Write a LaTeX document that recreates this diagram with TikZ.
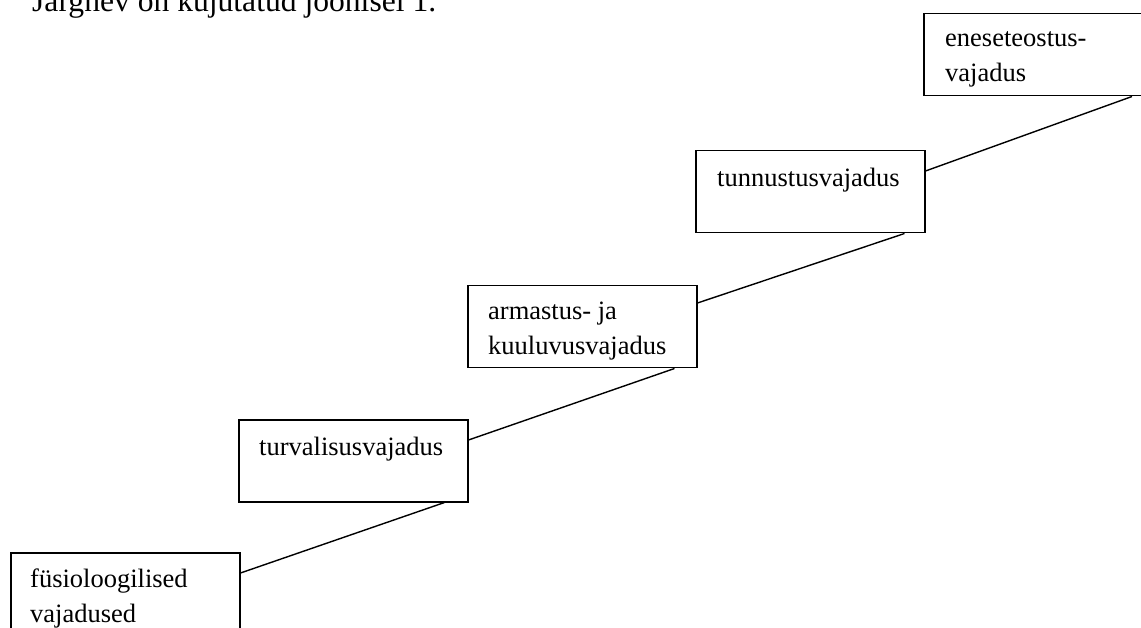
\documentclass[tikz,border=0pt]{standalone}
\usepackage{fontspec}
\setmainfont{Liberation Serif}
\usetikzlibrary{calc}
\begin{document}
\begin{tikzpicture}[x=1pt,y=-1pt,
  stepbox/.style={draw, line width=1.5pt, minimum width=229pt, minimum height=82pt, inner sep=0pt, anchor=north west},
  lbl/.style={anchor=base west, inner sep=0pt, font=\fontsize{26.5}{35}\selectfont, align=left},
  conn/.style={line width=1.4pt}]
\useasboundingbox (0,0) rectangle (1141,628);
\clip (0,0) rectangle (1141,628);
\node[lbl, font=\fontsize{31.6}{38}\selectfont] (title) at (32,12) {Järgnev on kujutatud joonisel 1.};
\node[stepbox] (b1) at (10,552) {};
\node[stepbox] (b2) at (238,419) {};
\node[stepbox] (b3) at (467,285) {};
\node[stepbox] (b4) at (695,150) {};
\node[stepbox] (b5) at (923,13) {};
\node[lbl] (t1) at (30,622) {füsioloogilised\\vajadused};
\node[lbl] (t2) at (259,455) {turvalisusvajadus};
\node[lbl] (t3) at (488,355) {armastus- ja\\kuuluvusvajadus};
\node[lbl] (t4) at (717,187) {tunnustusvajadus};
\node[lbl] (t5) at (945,82) {eneseteostus-\\vajadus};
\path (b1.north east) ++(0,21) coordinate (s1);
\path (b2.north east) ++(0,21) coordinate (s2);
\path (b3.north east) ++(0,18) coordinate (s3);
\path (b4.north east) ++(0,21) coordinate (s4);
\path (b2.south east) ++(-24,0) coordinate (e1);
\path (b3.south east) ++(-23,0) coordinate (e2);
\path (b4.south east) ++(-21,0) coordinate (e3);
\path (b5.south west) ++(209,0) coordinate (e4);
\draw[conn] (s1) -- (e1);
\draw[conn] (s2) -- (e2);
\draw[conn] (s3) -- (e3);
\draw[conn] (s4) -- (e4);
\end{tikzpicture}
\end{document}
